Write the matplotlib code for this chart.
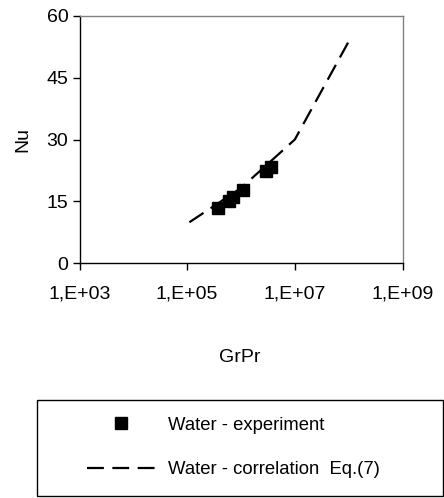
import math
import matplotlib
matplotlib.use("Agg")
import matplotlib.pyplot as plt
from matplotlib.patches import Rectangle
from matplotlib.ticker import FixedLocator, FuncFormatter, NullLocator

plt.rcParams['font.family'] = ['Liberation Sans', 'DejaVu Sans']

# measured points (water)
grpr_exp = [3.8e5, 6.0e5, 7.1e5, 1.1e6, 2.9e6, 3.6e6]
nu_exp = [13.4, 15.1, 16.0, 17.7, 22.3, 23.3]

# correlation Eq.(7)
grpr_corr = [1.1e5, 1.0e6, 1.0e7, 1.0e8]
nu_corr = [9.9, 18.2, 30.0, 53.8]

x_ticks = [1e3, 1e5, 1e7, 1e9]
y_ticks = [0, 15, 30, 45, 60]

fig = plt.figure(figsize=(4.44, 4.98), dpi=100)
ax = fig.add_axes([79.5 / 444, 1 - 263 / 498, 323 / 444, 247 / 498])

ax.plot(grpr_exp, nu_exp, 's', color='black', markersize=8.5, linestyle='none',
        label='Water - experiment')
corr, = ax.plot(grpr_corr, nu_corr, color='black', linewidth=1.6,
                label='Water - correlation  Eq.(7)')
corr.set_dashes((7.6, 3.8))

ax.set_xscale('log')
ax.set_xlim(1e3, 1e9)
ax.set_ylim(0, 60)
ax.xaxis.set_major_locator(FixedLocator(x_ticks))
ax.xaxis.set_minor_locator(NullLocator())
ax.xaxis.set_major_formatter(FuncFormatter(lambda v, pos: '1,E+%02d' % round(math.log10(v))))
ax.set_yticks(y_ticks)

for side in ('top', 'right'):
    ax.spines[side].set_color('#808080')
for side in ('left', 'bottom'):
    ax.spines[side].set_color('black')
for s in ax.spines.values():
    s.set_linewidth(1.0)

ax.tick_params(axis='both', direction='out', length=5, width=1, labelsize=14,
               colors='black')
ax.tick_params(axis='x', pad=11)
ax.tick_params(axis='y', pad=3)

ax.set_ylabel('Nu', fontsize=14, labelpad=11)
fig.text(240 / 444, 1 - 358 / 498, 'GrPr', ha='center', va='center', fontsize=14)

# legend entries without frame, box drawn separately
leg = fig.legend(loc='center left', bbox_to_anchor=(87 / 444, 1 - 447.5 / 498),
                 borderaxespad=0, borderpad=0, fontsize=13.3,
                 handlelength=3.7, handletextpad=0.7, labelspacing=1.5,
                 frameon=False, numpoints=1)
fig.patches.append(Rectangle((37 / 444, 2 / 498), 406 / 444, 96 / 498,
                             transform=fig.transFigure, fill=False,
                             edgecolor='black', linewidth=1.0))

fig.savefig('out.png', dpi=100)
